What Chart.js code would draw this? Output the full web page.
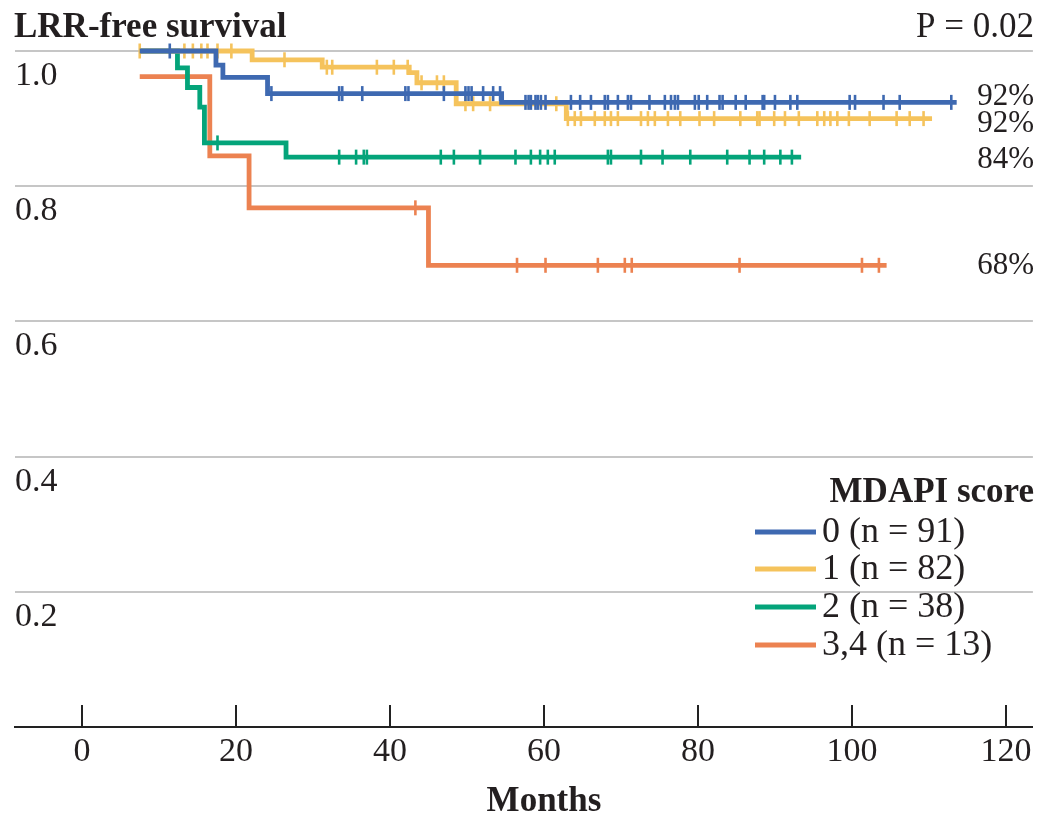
<!DOCTYPE html>
<html>
<head>
<meta charset="utf-8">
<script src="https://cdn.jsdelivr.net/npm/chart.js@4.4.1/dist/chart.umd.min.js"></script>
<style>
  html, body { margin: 0; padding: 0; background: #fff; }
</style>
</head>
<body>
<canvas id="km" width="1043" height="820"></canvas>
<script>
// step points (month, survival) for each MDAPI group, last entry = end of follow-up
const blueTimes = [7.5, 17.4, 18.3, 24.1, 54.5, 113.6];
const blueSurv = [1.0, 0.979, 0.961, 0.937, 0.924, 0.924];
const yellowTimes = [7.5, 22.1, 31.2, 42.5, 43.5, 48.6, 62.9, 110.4];
const yellowSurv = [1.0, 0.987, 0.976, 0.968, 0.953, 0.922, 0.900, 0.900];
const greenTimes = [7.5, 12.4, 13.7, 15.3, 15.9, 26.5, 93.4];
const greenSurv = [1.0, 0.975, 0.946, 0.917, 0.864, 0.843, 0.843];
const orangeTimes = [7.5, 16.6, 21.7, 45.0, 104.5];
const orangeSurv = [0.962, 0.845, 0.768, 0.683, 0.683];

// censored observations (months)
const blueCensor = [11.4, 24.6, 33.4, 33.8, 36.4, 42.0, 42.4, 47.0, 49.8, 50.2, 50.6, 52.1, 53.4, 54.3,
  57.6, 58.0, 58.3, 58.9, 59.2, 59.6, 60.2, 63.5, 64.7, 66.1, 67.9, 68.3, 69.6, 70.9, 71.3, 73.7,
  75.7, 76.5, 77.0, 77.4, 79.6, 80.1, 81.2, 82.8, 83.2, 84.9, 86.2, 88.4, 88.6, 90.0, 92.0, 92.9,
  99.7, 100.4, 104.1, 106.2, 112.9];
const yellowCensor = [7.5, 13.3, 14.4, 15.5, 16.3, 17.6, 19.4, 26.3, 31.8, 32.5, 38.3, 40.5, 42.3,
  44.1, 46.1, 47.0, 49.8, 50.8, 53.0, 61.6, 63.1, 64.0, 64.8, 66.6, 67.9, 68.7, 69.6, 72.6, 73.5,
  74.4, 76.1, 77.7, 80.2, 82.1, 85.5, 87.7, 88.0, 89.9, 91.3, 93.1, 95.5, 96.4, 97.2, 98.1, 99.6,
  102.3, 105.8, 107.5, 109.3];
const greenCensor = [17.6, 33.4, 35.6, 36.6, 37.0, 46.6, 48.3, 51.7, 56.3, 58.3, 59.5, 60.5, 61.4,
  68.3, 68.7, 72.6, 75.4, 79.0, 83.8, 86.7, 88.6, 90.7, 92.2];
const orangeCensor = [43.3, 56.5, 60.2, 67.0, 70.5, 71.4, 85.4, 101.3, 103.5];

const groupLabels = ["0 (n = 91)", "1 (n = 82)", "2 (n = 38)", "3,4 (n = 13)"];
const endLabels = ["92%", "92%", "84%", "68%"];
const xTicks = [0, 20, 40, 60, 80, 100, 120];

const colors = ["#3e69b1", "#f5c35c", "#04a47a", "#ec8251"];
const FONT = "'Liberation Serif', 'Times New Roman', serif";

function survAt(times, surv, t) {
  let s = surv[0];
  for (let i = 0; i < times.length; i++) {
    if (times[i] <= t) s = surv[i];
  }
  return s;
}

function stepData(times, surv) {
  return times.map((t, i) => ({ x: t, y: surv[i] }));
}

function censorData(times, surv, cens) {
  return cens.map(t => ({ x: t, y: survAt(times, surv, t) }));
}

const groups = [
  [blueTimes, blueSurv, blueCensor],
  [yellowTimes, yellowSurv, yellowCensor],
  [greenTimes, greenSurv, greenCensor],
  [orangeTimes, orangeSurv, orangeCensor]
];

const datasets = [];
groups.forEach((g, i) => {
  datasets.push({
    label: groupLabels[i],
    data: stepData(g[0], g[1]),
    borderColor: colors[i],
    borderWidth: 4.8,
    stepped: 'before',
    pointRadius: 0,
    fill: false,
    clip: false,
    order: i * 2 + 1
  });
  datasets.push({
    label: groupLabels[i] + " censored",
    data: censorData(g[0], g[1], g[2]),
    showLine: false,
    pointStyle: 'line',
    rotation: 90,
    pointRadius: 7.5,
    borderColor: colors[i],
    borderWidth: 2.6,
    clip: false,
    order: i * 2
  });
});

const decorations = {
  id: 'decorations',
  afterDraw(chart) {
    const ctx = chart.ctx;
    const xs = chart.scales.x;
    const area = chart.chartArea;
    ctx.save();

    // x ticks pointing up into the plot
    ctx.strokeStyle = "#222";
    ctx.lineWidth = 2;
    xTicks.forEach(v => {
      const px = Math.round(xs.getPixelForValue(v));
      ctx.beginPath();
      ctx.moveTo(px, area.bottom);
      ctx.lineTo(px, area.bottom - 22);
      ctx.stroke();
    });

    // titles
    ctx.fillStyle = "#231f20";
    ctx.textBaseline = "middle";
    ctx.font = "bold 35px " + FONT;
    ctx.textAlign = "left";
    ctx.fillText("LRR-free survival", 14, 28);
    ctx.font = "35px " + FONT;
    ctx.textAlign = "right";
    ctx.fillText("P = 0.02", 1034, 28);

    // x axis title, centred under the 60 month tick
    ctx.font = "bold 35px " + FONT;
    ctx.textAlign = "center";
    ctx.fillText("Months", xs.getPixelForValue(60), 802);

    // percentages at the end of each curve
    ctx.textAlign = "right";
    ctx.font = "31px " + FONT;
    const endY = [97, 124, 160, 266];
    endLabels.forEach((t, i) => ctx.fillText(t, 1034, endY[i]));

    // legend
    ctx.font = "bold 35px " + FONT;
    ctx.fillText("MDAPI score", 1034, 493);
    ctx.font = "36px " + FONT;
    ctx.textAlign = "left";
    const rowY = [532, 569, 607, 645];
    groupLabels.forEach((t, i) => {
      ctx.strokeStyle = colors[i];
      ctx.lineWidth = 5;
      ctx.beginPath();
      ctx.moveTo(755, rowY[i]);
      ctx.lineTo(816, rowY[i]);
      ctx.stroke();
      ctx.fillText(t, 822, rowY[i] + 1);
    });
    ctx.restore();
  }
};

new Chart(document.getElementById("km"), {
  type: 'line',
  data: { datasets: datasets },
  options: {
    responsive: false,
    animation: false,
    devicePixelRatio: 1,
    layout: { padding: { top: 51, left: 15, right: 6, bottom: 0 } },
    plugins: {
      legend: { display: false },
      tooltip: { enabled: false },
      title: { display: false }
    },
    scales: {
      x: {
        type: 'linear',
        min: -8.7,
        max: 123.5,
        grid: { display: false, drawTicks: false },
        border: { display: true, color: "#222", width: 2 },
        ticks: {
          stepSize: 20,
          includeBounds: false,
          padding: 5,
          color: "#231f20",
          font: { family: FONT, size: 34 },
          maxRotation: 0
        },
        afterFit(scale) { scale.height = 93; }
      },
      y: {
        min: 0,
        max: 1.0,
        grid: { color: "#c6c6c6", lineWidth: 2, drawTicks: false },
        border: { display: false },
        ticks: {
          stepSize: 0.2,
          mirror: true,
          padding: 0,
          labelOffset: 25,
          color: "#231f20",
          font: { family: FONT, size: 34 },
          callback: v => (v === 0 ? "" : v.toFixed(1))
        },
        afterFit(scale) { scale.width = 0; }
      }
    }
  },
  plugins: [decorations]
});
</script>
</body>
</html>
